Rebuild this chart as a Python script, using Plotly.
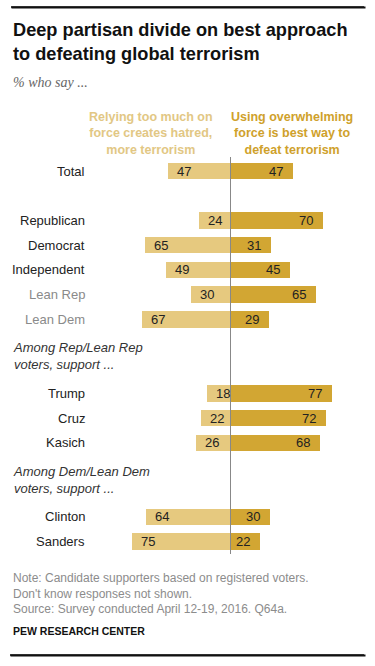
import plotly.graph_objects as go

# ---------------- data ----------------
categories = ["Total", "Republican", "Democrat", "Independent", "Lean Rep", "Lean Dem",
              "Trump", "Cruz", "Kasich", "Clinton", "Sanders"]
relying_too_much = [47, 24, 65, 49, 30, 67, 18, 22, 26, 64, 75]
overwhelming_force = [47, 70, 31, 45, 65, 29, 77, 72, 68, 30, 22]
gray_labels = ["Lean Rep", "Lean Dem"]
group_sizes = [1, 5, 3, 2]
group_headers = [None, None, "Among Rep/Lean Rep<br>voters, support ...",
                 "Among Dem/Lean Dem<br>voters, support ..."]
series_names = ["Relying too much on<br>force creates hatred,<br>more terrorism",
                "Using overwhelming<br>force is best way to<br>defeat terrorism"]

title = "Deep partisan divide on best approach<br>to defeating global terrorism"
subtitle = "% who say ..."
notes = ("Note: Candidate supporters based on registered voters.<br>"
         "Don't know responses not shown.<br>"
         "Source: Survey conducted April 12-19, 2016. Q64a.")
source = "PEW RESEARCH CENTER"

# ---------------- style ----------------
LIGHT = "#E6C97F"
DARK = "#D2A633"
LIGHT_TXT = "#E2C784"
DARK_TXT = "#CFA12B"
W, H = 375, 666
BAR_TOP, BAR_BOT = 157, 554     # pixel extent of the bar block / centre line

# row positions: gap of 1 row between first groups, 2 header rows for headed groups
rows = []
header_rows = []
r = 0
for gi, (n, hdr) in enumerate(zip(group_sizes, group_headers)):
    if gi > 0:
        if hdr is None:
            r += 1
        else:
            header_rows.append((r + 0.5, hdr))
            r += 2
    for _ in range(n):
        rows.append(r)
        r += 1
y_lo, y_hi = -0.57, rows[-1] + 0.5
px_per_row = (BAR_BOT - BAR_TOP) / (y_hi - y_lo)
# plot area covers the whole figure; extend the row range accordingly
range_top = y_lo - BAR_TOP / px_per_row
range_bot = y_hi + (H - BAR_BOT) / px_per_row

def py(px):
    """pixel y from top -> paper y"""
    return (H - px) / H

def px_x(px):
    return px / W

fig = go.Figure()
fig.add_trace(go.Bar(y=rows, x=[-v for v in relying_too_much], base=0, orientation="h",
                     marker=dict(color=LIGHT, line=dict(width=0)), width=0.67,
                     name="Relying", hoverinfo="skip"))
fig.add_trace(go.Bar(y=rows, x=overwhelming_force, orientation="h",
                     marker=dict(color=DARK, line=dict(width=0)), width=0.67,
                     name="Using", hoverinfo="skip"))

ann = []
for cat, yr, lv, rv in zip(categories, rows, relying_too_much, overwhelming_force):
    ann.append(dict(x=-lv, y=yr, xref="x", yref="y", text=str(lv), showarrow=False,
                    xanchor="left", xshift=7, font=dict(size=13, color="#222")))
    ann.append(dict(x=rv, y=yr, xref="x", yref="y", text=str(rv), showarrow=False,
                    xanchor="right", xshift=-8, font=dict(size=13, color="#222")))
    ann.append(dict(x=px_x(87), y=yr, xref="paper", yref="y", text=cat, showarrow=False,
                    xanchor="right", font=dict(size=13,
                    color="#8a8a8a" if cat in gray_labels else "#222")))
for yr, hdr in header_rows:
    ann.append(dict(x=px_x(11), y=yr, xref="paper", yref="y", text=f"<i>{hdr}</i>",
                    showarrow=False, xanchor="left", align="left",
                    font=dict(size=13, color="#333")))

ff = "Liberation Sans, Arial, sans-serif"
ann += [
    dict(x=px_x(11), y=py(18), xref="paper", yref="paper", text=f"<b>{title}</b>",
         showarrow=False, xanchor="left", yanchor="top", align="left",
         font=dict(size=18.2, color="#111", family=ff)),
    dict(x=px_x(11), y=py(73), xref="paper", yref="paper", text=f"<i>{subtitle}</i>",
         showarrow=False, xanchor="left", yanchor="top", align="left",
         font=dict(size=14, color="#666", family="Liberation Serif, serif")),
    dict(x=px_x(151), y=py(108), xref="paper", yref="paper", text=f"<b>{series_names[0]}</b>",
         showarrow=False, xanchor="center", yanchor="top", align="center",
         font=dict(size=12.5, color=LIGHT_TXT, family=ff)),
    dict(x=px_x(292), y=py(108), xref="paper", yref="paper", text=f"<b>{series_names[1]}</b>",
         showarrow=False, xanchor="center", yanchor="top", align="center",
         font=dict(size=12.5, color=DARK_TXT, family=ff)),
    dict(x=px_x(11), y=py(569), xref="paper", yref="paper", text=notes,
         showarrow=False, xanchor="left", yanchor="top", align="left",
         font=dict(size=12, color="#8c8c8c", family=ff)),
    dict(x=px_x(11), y=py(623), xref="paper", yref="paper", text=f"<b>{source}</b>",
         showarrow=False, xanchor="left", yanchor="top", align="left",
         font=dict(size=10.5, color="#111", family=ff)),
]
# top and bottom rules as thin filled annotation boxes
for y_px, x_start in [(7, 11), (655, 10)]:
    ann.append(dict(x=px_x(x_start), y=py(y_px), xref="paper", yref="paper", text=" ",
                    showarrow=False, xanchor="left", yanchor="middle",
                    width=364 - x_start, height=1, borderpad=0, bgcolor="#111",
                    font=dict(size=1, color="#111")))

shapes = [
    dict(type="line", xref="x", yref="paper", x0=0, x1=0, y0=py(BAR_BOT), y1=py(BAR_TOP),
         line=dict(color="#888", width=1)),
    dict(type="line", xref="paper", yref="paper", x0=px_x(11), x1=px_x(364),
         y0=py(7), y1=py(7), line=dict(color="#111", width=1.3)),
    dict(type="line", xref="paper", yref="paper", x0=px_x(10), x1=px_x(364),
         y0=py(655), y1=py(655), line=dict(color="#111", width=1.3)),
]

scale = 1.32   # px per percentage point
cx = 230.5
fig.update_layout(
    width=W, height=H, barmode="relative", showlegend=False,
    margin=dict(l=0, r=0, t=0, b=0, pad=0),
    paper_bgcolor="white", plot_bgcolor="white",
    font=dict(family=ff, color="#222"),
    xaxis=dict(range=[-cx / scale, (W - cx) / scale], visible=False, fixedrange=True),
    yaxis=dict(range=[range_bot, range_top], visible=False, fixedrange=True),
    annotations=ann, shapes=shapes, bargap=0,
)
fig.write_html("out.html", config={"displayModeBar": False},
               post_script="document.body.style.margin='0';document.body.style.padding='0';")
